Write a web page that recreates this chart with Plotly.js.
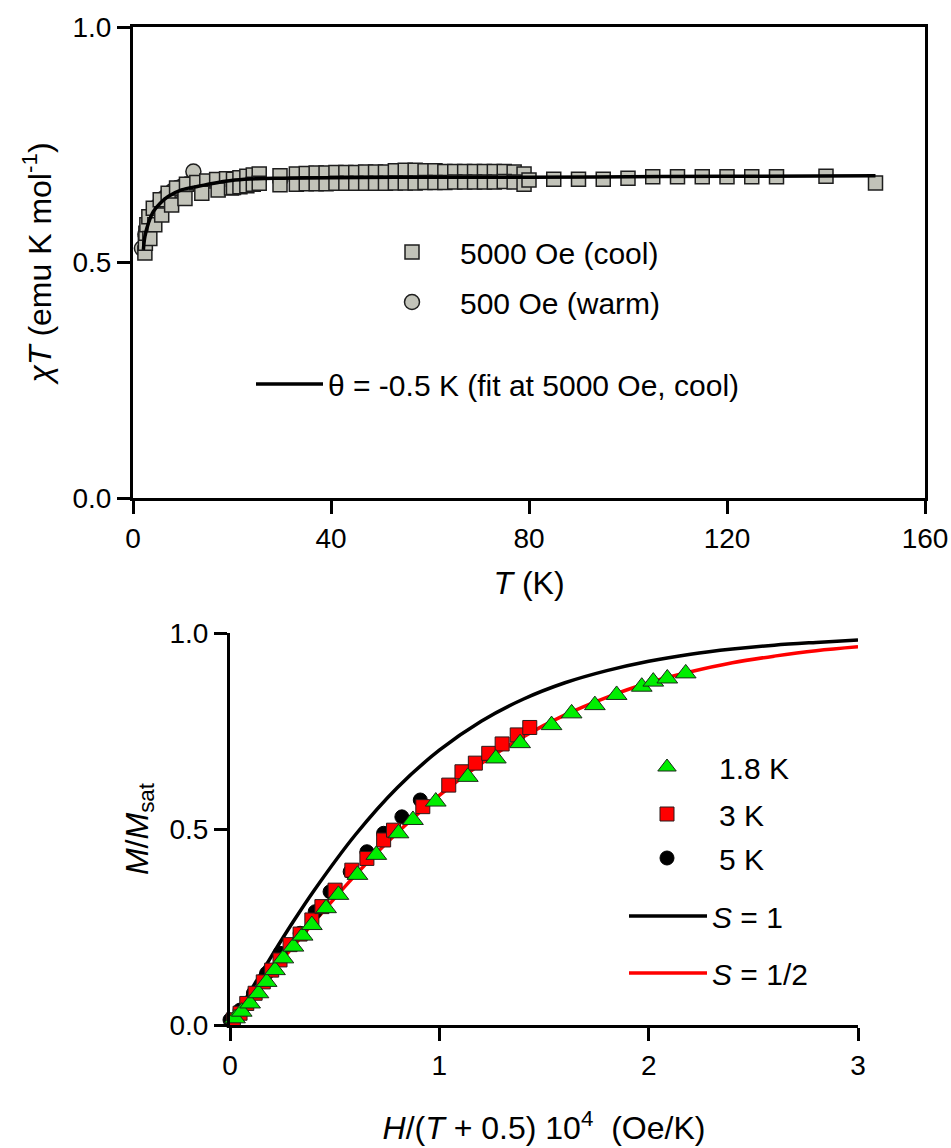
<!DOCTYPE html>
<html>
<head>
<meta charset="utf-8">
<script src="https://cdn.plot.ly/plotly-3.0.1.min.js"></script>
<style>html,body{margin:0;padding:0;background:#fff;}#chart{width:951px;height:1148px;}</style>
</head>
<body>
<div id="chart"></div>
<script>
// ---------- Top panel: chi*T vs T ----------
var coolT = [2.4,2.5,2.6,2.8,3.2,4.1,5.5,7.1,8.8,10.8,12.9,14.9,16.9,18.9,
             3.4,4.4,5.8,7.8,10.5,13.9,17.2,19.9,
             20.3,21.6,23.0,24.3,25.5,20.3,21.6,23.0,24.3,25.5,29.7,29.7,
             33,35,37,39,41,43,45,47,49,51,53,55,57,59,61,63,65,67,69,71,73,75,77,79,
             33,35,37,39,41,43,45,47,49,51,53,55,57,59,61,63,65,67,69,71,73,75,77,79,
             80,85,90,95,100,105,110,115,120,125,130,140,150];
var coolChiT = [0.520,0.541,0.562,0.580,0.597,0.615,0.633,0.647,0.658,0.666,0.670,0.673,0.676,0.678,
                0.551,0.580,0.601,0.622,0.636,0.647,0.654,0.658,
                0.677,0.680,0.683,0.686,0.688,0.659,0.661,0.663,0.666,0.668,0.684,0.665,
                0.688,0.689,0.690,0.690,0.691,0.691,0.691,0.692,0.692,0.692,0.695,0.696,0.696,0.695,0.695,0.693,0.693,0.693,0.693,0.693,0.693,0.693,0.692,0.688,
                0.666,0.667,0.667,0.667,0.668,0.668,0.668,0.668,0.668,0.668,0.669,0.669,0.669,0.670,0.670,0.670,0.671,0.671,0.671,0.671,0.671,0.672,0.671,0.666,
                0.675,0.677,0.677,0.677,0.679,0.682,0.682,0.682,0.682,0.682,0.682,0.683,0.669];
var warmT = [1.8,2.5,3,4,5,6,7,8,9,10,11,12.2];
var warmChiT = [0.53,0.56,0.58,0.60,0.62,0.635,0.645,0.652,0.658,0.662,0.666,0.693];
var fitT = [2.1,2.4,3.1,4.1,5.5,7.1,9.8,13.2,17.2,20.6,25,30,40,60,80,100,120,150];
var fitChiT = [0.527,0.555,0.583,0.608,0.626,0.640,0.654,0.662,0.670,0.675,0.678,0.679,0.680,0.681,0.681,0.682,0.683,0.684];

// ---------- Bottom panel: M/Msat vs H/(T+0.5) ----------
var k18x = [0.024,0.056,0.096,0.136,0.175,0.215,0.255,0.303,0.347,0.391,0.459,0.518,0.609,0.699,0.805,0.874,0.983,1.136,1.270,1.386,1.536,1.632,1.743,1.847,1.967,2.022,2.089,2.177];
var k18y = [0.017,0.034,0.055,0.081,0.110,0.140,0.170,0.200,0.228,0.255,0.298,0.332,0.383,0.434,0.489,0.523,0.570,0.633,0.680,0.719,0.765,0.795,0.816,0.842,0.863,0.876,0.884,0.897];
var k3x = [0.016,0.048,0.080,0.120,0.159,0.199,0.239,0.287,0.335,0.391,0.439,0.502,0.582,0.654,0.734,0.781,0.921,1.045,1.108,1.172,1.236,1.300,1.372,1.432];
var k3y = [0.013,0.030,0.055,0.081,0.110,0.140,0.166,0.205,0.232,0.268,0.302,0.344,0.395,0.425,0.472,0.497,0.557,0.612,0.646,0.668,0.693,0.717,0.740,0.759];
var k5x = [0.0,0.048,0.112,0.175,0.239,0.335,0.407,0.478,0.574,0.654,0.734,0.821,0.909];
var k5y = [0.013,0.038,0.081,0.132,0.183,0.234,0.289,0.340,0.391,0.442,0.489,0.531,0.574];
var curveX = [0,0.1,0.2,0.3,0.4,0.6,0.8,1.0,1.2,1.4,1.6,1.8,2.0,2.2,2.4,2.6,2.8,3.0];
var s1Y = [0,0.089,0.177,0.262,0.342,0.486,0.606,0.701,0.775,0.831,0.873,0.904,0.928,0.946,0.959,0.969,0.976,0.982];
var shY = [0,0.067,0.134,0.199,0.262,0.383,0.491,0.586,0.667,0.735,0.791,0.836,0.873,0.901,0.924,0.941,0.955,0.965];

var FONT = 'Liberation Sans, Arial, sans-serif';
var W = 951, H = 1148;
function px(x){return x/W;}
function py(y){return 1 - y/H;}

var grayFill = '#c2c3b9', edge = '#1e1e1e';

var traces = [
  {x: warmT, y: warmChiT, type:'scatter', mode:'markers', name:'500 Oe (warm)',
   xaxis:'x', yaxis:'y', legend:'legend2', cliponaxis:false,
   marker:{symbol:'circle', size:15, color:grayFill, line:{color:edge, width:1.5}}},
  {x: coolT, y: coolChiT, type:'scatter', mode:'markers', name:'5000 Oe (cool)',
   xaxis:'x', yaxis:'y', legend:'legend', cliponaxis:false,
   marker:{symbol:'square', size:14, color:grayFill, line:{color:edge, width:1.5}}},
  {x: fitT, y: fitChiT, type:'scatter', mode:'lines', name:'\u03b8 = -0.5 K (fit at 5000 Oe, cool)',
   xaxis:'x', yaxis:'y', legend:'legend3',
   line:{color:'#000', width:3.5, shape:'spline'}},

  {x: curveX, y: shY, type:'scatter', mode:'lines', name:'<i>S</i> = 1/2',
   xaxis:'x2', yaxis:'y2', legend:'legend8', cliponaxis:false,
   line:{color:'#ff0000', width:3.5, shape:'spline'}},
  {x: curveX, y: s1Y, type:'scatter', mode:'lines', name:'<i>S</i> = 1',
   xaxis:'x2', yaxis:'y2', legend:'legend7', cliponaxis:false,
   line:{color:'#000', width:3.5, shape:'spline'}},
  {x: k5x, y: k5y, type:'scatter', mode:'markers', name:'5 K',
   xaxis:'x2', yaxis:'y2', legend:'legend6', cliponaxis:false,
   marker:{symbol:'circle', size:14, color:'#000', line:{color:'#000', width:1}}},
  {x: k3x, y: k3y, type:'scatter', mode:'markers', name:'3 K',
   xaxis:'x2', yaxis:'y2', legend:'legend5', cliponaxis:false,
   marker:{symbol:'square', size:14, color:'#ff0000', line:{color:'#2a1a1a', width:1}}},
  {x: k18x, y: k18y, type:'scatter', mode:'markers', name:'1.8 K',
   xaxis:'x2', yaxis:'y2', legend:'legend4', cliponaxis:false,
   marker:{symbol:'triangle-up', size:18, color:'#00ee00', line:{color:'#1a2a1a', width:1}}}
];

function leg(xLeft, yMid, w){
  return {x:px(xLeft), y:py(yMid), xref:'paper', yref:'paper', xanchor:'left', yanchor:'middle',
          bgcolor:'rgba(0,0,0,0)', borderwidth:0, itemwidth:w,
          font:{family:FONT, size:30, color:'#000'}, itemclick:false, itemdoubleclick:false};
}

var axFont = {family:FONT, size:28, color:'#000'};
var titleFont = {family:FONT, size:32, color:'#000'};
var common = {showline:true, linecolor:'#000', linewidth:3, ticks:'outside', ticklen:13, tickwidth:3,
              tickcolor:'#000', showgrid:false, zeroline:false, tickfont:axFont};

var layout = {
  width:W, height:H, margin:{l:0,r:0,t:0,b:0},
  paper_bgcolor:'#fff', plot_bgcolor:'#fff', showlegend:true,
  xaxis: Object.assign({}, common, {domain:[px(133),px(925)], anchor:'y', range:[0,160],
          tickvals:[0,40,80,120,160], mirror:true,
          title:{text:'<i>T</i> (K)', font:titleFont, standoff:20}}),
  yaxis: Object.assign({}, common, {domain:[py(498),py(27)], anchor:'x', range:[0,1],
          tickvals:[0,0.5,1], ticktext:['0.0','0.5','1.0'], mirror:true,
          title:{text:'<i>\u03c7T</i> (emu K mol<sup>-1</sup>)', font:titleFont, standoff:12}}),
  xaxis2: Object.assign({}, common, {domain:[px(230),px(858)], anchor:'y2', range:[0,3],
          tickvals:[0,1,2,3],
          title:{text:'<i>H</i>/(<i>T</i> + 0.5) 10<sup>4</sup>  (Oe/K)', font:titleFont, standoff:38}}),
  yaxis2: Object.assign({}, common, {domain:[py(1025),py(633)], anchor:'x2', range:[0,1],
          tickvals:[0,0.5,1], ticktext:['0.0','0.5','1.0'],
          title:{text:'<i>M</i>/<i>M</i><sub>sat</sub>', font:titleFont, standoff:12}}),
  legend: leg(364, 252, 86),
  legend2: leg(364, 302, 86),
  legend3: leg(251, 384, 67),
  legend4: leg(615, 767, 94),
  legend5: leg(615, 814, 94),
  legend6: leg(615, 858, 94),
  legend7: leg(624, 916, 78),
  legend8: leg(624, 973, 78)
};

Plotly.newPlot('chart', traces, layout, {staticPlot:true, displayModeBar:false});
</script>
</body>
</html>
